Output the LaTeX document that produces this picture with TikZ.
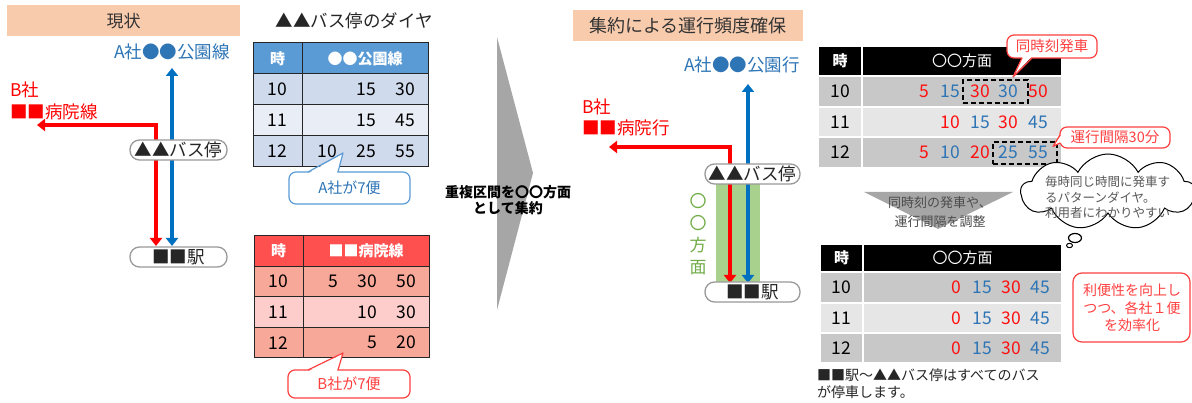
\documentclass[tikz,border=0pt]{standalone}
\usepackage{fontspec}
\setmainfont{Noto Sans CJK JP}
\usetikzlibrary{arrows.meta,shapes.symbols}
\definecolor{hdrorange}{HTML}{F8CBAD}
\definecolor{lblue}{HTML}{2E75B6}
\definecolor{arrblue}{HTML}{0070C0}
\definecolor{tblhdr}{HTML}{5B9BD5}
\definecolor{tblrowa}{HTML}{CFDAEC}
\definecolor{tblrowb}{HTML}{E9EDF5}
\definecolor{rhdr}{HTML}{FF5050}
\definecolor{rrowa}{HTML}{F8A898}
\definecolor{rrowb}{HTML}{FCCDCA}
\definecolor{grya}{HTML}{C8C8C8}
\definecolor{gryb}{HTML}{E6E6E6}
\definecolor{arrgray}{HTML}{A6A6A6}
\definecolor{grnband}{HTML}{A9D18E}
\definecolor{grntext}{HTML}{70AD47}
\definecolor{calred}{HTML}{FF4040}
\definecolor{numred}{HTML}{FF1010}
\definecolor{txtgray}{HTML}{595959}
\newcommand{\fs}[2]{\fontsize{#1}{#2}\selectfont}
\newcommand{\hdrtxt}{\color{white}\bfseries\fs{15}{18}}
\newcommand{\numtxt}{\fs{17.5}{20}}
\newcommand{\tcellA}[7]{\node[tcell,minimum width=#4,minimum height=#5,fill=#6] (#1) at (#2,#3) {#7};}
\newcommand{\gcellA}[7]{\node[gcell,minimum width=#4,minimum height=#5,fill=#6] (#1) at (#2,#3) {#7};}
\newcommand{\numR}[5]{\node[numnode,anchor=east,text=#4] (#1) at (#2,#3) {#5};}
\tikzset{
  hdrbox/.style={fill=hdrorange, inner sep=0, text=black!80},
  lbl/.style={inner sep=0},
  pillbox/.style={draw=black!40, line width=1.3pt, fill=white, rounded corners=9.5pt, inner sep=0, minimum height=20pt, font=\fs{17.5}{20}, text=black!85},
  route/.style={line width=4.5pt, >={Triangle[length=8pt,width=12pt]}, <->},
  tcell/.style={draw=black!85, line width=1pt, inner sep=0, font=\numtxt},
  gcell/.style={draw=white, line width=2pt, inner sep=0, font=\numtxt},
  numnode/.style={inner sep=0, font=\numtxt},
  dashbox/.style={draw=black, line width=2pt, dash pattern=on 5pt off 3pt, inner sep=0},
  callbox/.style={line width=1.2pt, fill=white, rounded corners=7pt},
}
\begin{document}
\begin{tikzpicture}[x=1pt,y=-1pt]
\useasboundingbox (0,0) rectangle (1192,403);
\fill[white] (0,0) rectangle (1192,403);

% ================= LEFT: current state =================
\node[hdrbox, minimum width=233pt, minimum height=31pt, font=\fs{17}{20}] (hdrL) at (123.5,21) {現状};
\node[lbl, text=lblue, font=\fs{17.5}{20}] (labAL) at (172,52) {A社●●公園線};
\node[lbl, text=red, font=\fs{17.5}{20}, anchor=west] (labBL1) at (10,90) {B社};
\node[lbl, text=red, font=\fs{17.5}{20}, anchor=west] (labBL2) at (10,112) {■■病院線};

\coordinate (bTopL) at (172,68);
\coordinate (bBotL) at (172,246);
\coordinate (rLeftL) at (37,125);
\coordinate (rCornL) at (156,125);
\coordinate (rBotL) at (156,246);
\draw[route, arrblue] (bTopL) -- (bBotL);
\draw[route, red] (rLeftL) -- (rCornL) -- (rBotL);

\node[pillbox, minimum width=97pt] (stopL) at (178.5,150) {▲▲バス停};
\node[pillbox, minimum width=97pt] (staL) at (178.5,257) {■■駅};

% ---- timetable A ----
\node[lbl, font=\fs{17.5}{20}, text=black!85] (ttl) at (354,21) {▲▲バス停のダイヤ};
\tcellA{t1h1}{277.5}{58.5}{49pt}{31pt}{tblhdr}{\hdrtxt 時}
\tcellA{t1h2}{365}{58.5}{126pt}{31pt}{tblhdr}{\hdrtxt ●●公園線}
\tcellA{t1a1}{277.5}{89.5}{49pt}{31pt}{tblrowa}{10}
\tcellA{t1b1}{365}{89.5}{126pt}{31pt}{tblrowa}{}
\tcellA{t1a2}{277.5}{120.5}{49pt}{31pt}{tblrowb}{11}
\tcellA{t1b2}{365}{120.5}{126pt}{31pt}{tblrowb}{}
\tcellA{t1a3}{277.5}{151.5}{49pt}{31pt}{tblrowa}{12}
\tcellA{t1b3}{365}{151.5}{126pt}{31pt}{tblrowa}{}
\numR{t1v12}{376}{89.5}{black}{15}
\numR{t1v13}{415}{89.5}{black}{30}
\numR{t1v22}{376}{120.5}{black}{15}
\numR{t1v23}{415}{120.5}{black}{45}
\numR{t1v31}{337}{151.5}{black}{10}
\numR{t1v32}{376}{151.5}{black}{25}
\numR{t1v33}{415}{151.5}{black}{55}

% callout A
\draw[callbox, draw=tblhdr] (289,172) rectangle (410,204);
\fill[white] (309,173) -- (343,153.5) -- (337,173) -- cycle;
\coordinate (cAl) at (308,172);
\coordinate (cAt) at (343,153);
\coordinate (cAr) at (338,172);
\draw[tblhdr, line width=1.2pt, line join=round] (cAl) -- (cAt) -- (cAr);
\node[lbl, text=lblue, font=\fs{15}{18}] (cAtext) at (349.5,188) {A社が7便};

% ---- timetable B ----
\tcellA{t2h1}{278.5}{251.25}{49pt}{30.5pt}{rhdr}{\hdrtxt 時}
\tcellA{t2h2}{366}{251.25}{126pt}{30.5pt}{rhdr}{\hdrtxt ■■病院線}
\tcellA{t2a1}{278.5}{281.75}{49pt}{30.5pt}{rrowa}{10}
\tcellA{t2b1}{366}{281.75}{126pt}{30.5pt}{rrowa}{}
\tcellA{t2a2}{278.5}{312.25}{49pt}{30.5pt}{rrowb}{11}
\tcellA{t2b2}{366}{312.25}{126pt}{30.5pt}{rrowb}{}
\tcellA{t2a3}{278.5}{342.75}{49pt}{30.5pt}{rrowa}{12}
\tcellA{t2b3}{366}{342.75}{126pt}{30.5pt}{rrowa}{}
\numR{t2v11}{338}{281.75}{black}{5}
\numR{t2v12}{377}{281.75}{black}{30}
\numR{t2v13}{416}{281.75}{black}{50}
\numR{t2v22}{377}{312.25}{black}{10}
\numR{t2v23}{416}{312.25}{black}{30}
\numR{t2v32}{377}{342.75}{black}{5}
\numR{t2v33}{416}{342.75}{black}{20}

% callout B
\draw[callbox, draw=calred] (288,370) rectangle (410,398);
\fill[white] (309,371) -- (343,353.5) -- (337,371) -- cycle;
\coordinate (cBl) at (308,370);
\coordinate (cBt) at (343,353);
\coordinate (cBr) at (338,370);
\draw[calred, line width=1.2pt, line join=round] (cBl) -- (cBt) -- (cBr);
\node[lbl, text=calred, font=\fs{15}{18}] (cBtext) at (349,384) {B社が7便};

% ================= MIDDLE chevron =================
\fill[arrgray] (497,37) -- (533,173) -- (497,310) -- cycle;
\node[lbl, align=center, font=\bfseries\fs{14}{16}] (midtxt) at (508,200) {重複区間を〇〇方面\\として集約};

% ================= RIGHT: consolidated =================
\node[hdrbox, minimum width=230pt, minimum height=31pt, font=\fs{18}{21}] (hdrR) at (688,25.5) {集約による運行頻度確保};
\node[lbl, text=lblue, font=\fs{17.5}{20}] (labAR) at (742,65) {A社●●公園行};
\node[lbl, text=red, font=\fs{17.5}{20}, anchor=west] (labBR1) at (582,107) {B社};
\node[lbl, text=red, font=\fs{17.5}{20}, anchor=west] (labBR2) at (582,128) {■■病院行};

\fill[grnband] (716,178) rectangle (760,283);
\coordinate (bTopR) at (748,84);
\coordinate (bBotR) at (748,283);
\coordinate (rLeftR) at (609,147);
\coordinate (rCornR) at (730,147);
\coordinate (rBotR) at (730,283);
\draw[route, arrblue] (bTopR) -- (bBotR);
\draw[route, red] (rLeftR) -- (rCornR) -- (rBotR);

\node[pillbox, minimum width=95pt] (stopR) at (752.5,174) {▲▲バス停};
\node[pillbox, minimum width=95pt] (staR) at (752.5,292) {■■駅};
\node[lbl, align=center, text=grntext, font=\fs{17}{22}] (dirtxt) at (698,234) {〇\\〇\\方\\面};

% ---- timetable combined (before) ----
\gcellA{t3h1}{840}{61}{44pt}{30pt}{black}{\hdrtxt 時}
\gcellA{t3h2}{962}{61}{200pt}{30pt}{black}{\color{white}\fs{15}{18}〇〇方面}
\gcellA{t3a1}{840}{91.5}{44pt}{31pt}{grya}{10}
\gcellA{t3b1}{962}{91.5}{200pt}{31pt}{grya}{}
\gcellA{t3a2}{840}{122}{44pt}{30pt}{gryb}{11}
\gcellA{t3b2}{962}{122}{200pt}{30pt}{gryb}{}
\gcellA{t3a3}{840}{152.5}{44pt}{31pt}{grya}{12}
\gcellA{t3b3}{962}{152.5}{200pt}{31pt}{grya}{}
\numR{t3v11}{929.5}{91.5}{numred}{5}
\numR{t3v12}{960}{91.5}{lblue}{15}
\numR{t3v13}{990}{91.5}{numred}{30}
\numR{t3v14}{1018}{91.5}{lblue}{30}
\numR{t3v15}{1048}{91.5}{numred}{50}
\numR{t3v22}{960}{122}{numred}{10}
\numR{t3v23}{990}{122}{lblue}{15}
\numR{t3v24}{1018}{122}{numred}{30}
\numR{t3v25}{1048}{122}{lblue}{45}
\numR{t3v31}{929.5}{152.5}{numred}{5}
\numR{t3v32}{960}{152.5}{lblue}{10}
\numR{t3v33}{990}{152.5}{numred}{20}
\numR{t3v34}{1018}{152.5}{lblue}{25}
\numR{t3v35}{1048}{152.5}{lblue}{55}
\node[dashbox, minimum width=65pt, minimum height=23pt] (dash1) at (995.5,91.5) {};
\node[dashbox, minimum width=64pt, minimum height=22pt] (dash2) at (1025,153) {};

% callout: same time departure
\draw[callbox, draw=calred] (1007,35) rectangle (1097,58);
\fill[white] (1022.5,57) -- (1013,76.5) -- (1031.5,57) -- cycle;
\coordinate (cCl) at (1022,58);
\coordinate (cCt) at (1013,77);
\coordinate (cCr) at (1032,58);
\draw[calred, line width=1.2pt, line join=round] (cCl) -- (cCt) -- (cCr);
\node[lbl, text=calred, font=\fs{14.5}{17}] (cCtext) at (1052,46.5) {同時刻発車};

% callout: interval 30
\draw[callbox, draw=calred] (1060,127) rectangle (1170,148);
\fill[white] (1061,135.5) -- (1053.5,146) -- (1061,142.5) -- cycle;
\coordinate (cDl) at (1060,135);
\coordinate (cDt) at (1053,146.5);
\coordinate (cDr) at (1060,143);
\draw[calred, line width=1.2pt, line join=round] (cDl) -- (cDt) -- (cDr);
\node[lbl, text=calred, font=\fs{14.5}{17}] (cDtext) at (1115,137.5) {運行間隔30分};

% thought cloud
\node[cloud, draw=black, line width=1pt, fill=white, cloud puffs=9, cloud puff arc=125, aspect=2.3, minimum width=174pt, minimum height=76pt, inner sep=0] (cloudN) at (1108,192) {};
\draw[black, line width=1.2pt, fill=white] (1075,238) ellipse [x radius=6.5, y radius=4.5];
\draw[black, line width=1pt, fill=white] (1069.5,245.5) ellipse [x radius=3, y radius=2.2];
\node[lbl, align=left, anchor=west, text=txtgray, font=\fs{12.5}{15.5}] (cloudtxt) at (1045,197.5) {毎時同じ時間に発車す\\るパターンダイヤ。\\利用者にわかりやすい};

% down arrow
\fill[arrgray] (864,192) -- (1013,192) -- (938,229) -- cycle;
\node[lbl, align=center, text=black!70, font=\fs{13}{19}] (downtxt) at (940,212.5) {同時刻の発車や、\\運行間隔を調整};

% ---- timetable combined (after) ----
\gcellA{t4h1}{841.5}{258}{43pt}{28pt}{black}{\hdrtxt 時}
\gcellA{t4h2}{962.5}{258}{199pt}{28pt}{black}{\color{white}\fs{15}{18}〇〇方面}
\gcellA{t4a1}{841.5}{287.5}{43pt}{31pt}{grya}{10}
\gcellA{t4b1}{962.5}{287.5}{199pt}{31pt}{grya}{}
\gcellA{t4a2}{841.5}{318}{43pt}{30pt}{gryb}{11}
\gcellA{t4b2}{962.5}{318}{199pt}{30pt}{gryb}{}
\gcellA{t4a3}{841.5}{348}{43pt}{30pt}{grya}{12}
\gcellA{t4b3}{962.5}{348}{199pt}{30pt}{grya}{}
\numR{t4v11}{961}{287.5}{numred}{0}
\numR{t4v12}{992}{287.5}{lblue}{15}
\numR{t4v13}{1021}{287.5}{numred}{30}
\numR{t4v14}{1050}{287.5}{lblue}{45}
\numR{t4v21}{961}{318}{numred}{0}
\numR{t4v22}{992}{318}{lblue}{15}
\numR{t4v23}{1021}{318}{numred}{30}
\numR{t4v24}{1050}{318}{lblue}{45}
\numR{t4v31}{961}{348}{numred}{0}
\numR{t4v32}{992}{348}{lblue}{15}
\numR{t4v33}{1021}{348}{numred}{30}
\numR{t4v34}{1050}{348}{lblue}{45}

\node[lbl, align=left, anchor=north west, text=black!85, font=\fs{14}{17}] (note) at (817,369) {■■駅～▲▲バス停はすべてのバス\\が停車します。};

% bottom-right callout
\draw[callbox, draw=calred, rounded corners=9pt] (1073,273) rectangle (1190,342);
\node[lbl, align=center, text=calred, font=\fs{14}{17.5}] (effTxt) at (1132,308) {利便性を向上し\\つつ、各社１便\\を効率化};
\end{tikzpicture}
\end{document}
